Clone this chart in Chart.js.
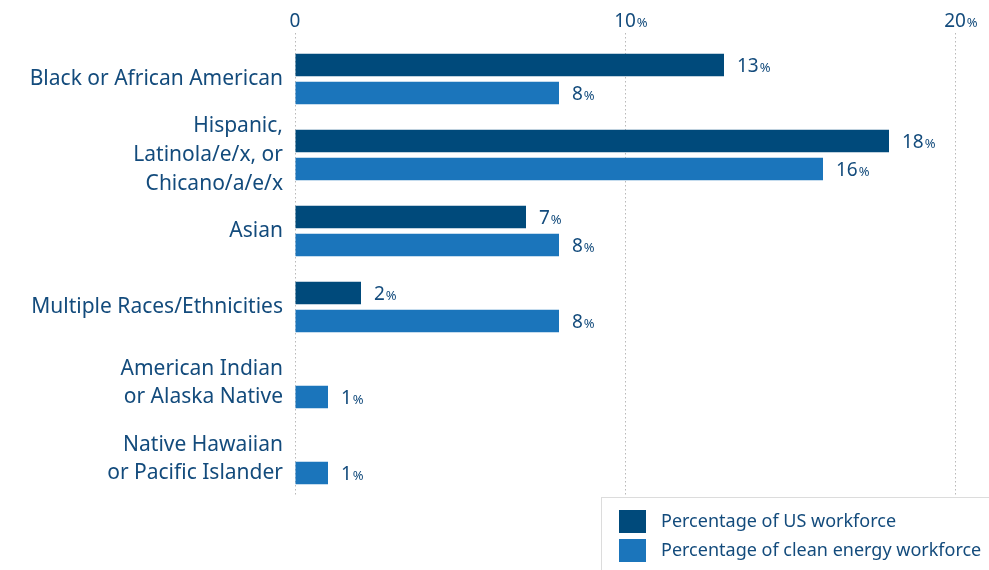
<!DOCTYPE html>
<html>
<head>
<meta charset="utf-8">
<script src="https://cdn.jsdelivr.net/npm/chart.js@4"></script>
<style>
  body { margin: 0; background: #fff; }
  #wrap { width: 989px; height: 570px; }
</style>
</head>
<body>
<div id="wrap"><canvas id="chart" width="989" height="570"></canvas></div>
<script>
const categories = [
  'Black or African American',
  ['Hispanic,', 'Latinola/e/x, or', 'Chicano/a/e/x'],
  'Asian',
  'Multiple Races/Ethnicities',
  ['American Indian', 'or Alaska Native'],
  ['Native Hawaiian', 'or Pacific Islander']
];
const usWorkforce = [13, 18, 7, 2, null, null];
const cleanEnergyWorkforce = [8, 16, 8, 8, 1, 1];
const xTicks = [0, 10, 20];

const TEXT = '#134b7c';
const FONT = "'Noto Sans', sans-serif";

// number with a smaller % sign, number centred or left-aligned at x
function drawPercent(ctx, value, x, y, centered) {
  const num = String(value);
  ctx.font = '19px ' + FONT;
  const w = ctx.measureText(num).width;
  const left = centered ? x - w / 2 : x;
  ctx.fillStyle = TEXT;
  ctx.textAlign = 'left';
  ctx.textBaseline = 'alphabetic';
  ctx.fillText(num, left, y);
  if (value !== 0 || !centered) {
    ctx.font = '13px ' + FONT;
    ctx.fillText('%', left + w + 1, y);
  }
}

const customText = {
  id: 'customText',
  afterDraw(chart) {
    const ctx = chart.ctx;
    const xScale = chart.scales.x;
    ctx.save();

    // top axis labels
    xTicks.forEach((t) => {
      drawPercent(ctx, t, xScale.getPixelForValue(t), 27, true);
    });

    // value labels
    chart.data.datasets.forEach((ds, i) => {
      const meta = chart.getDatasetMeta(i);
      meta.data.forEach((bar, j) => {
        const v = ds.data[j];
        if (v === null) return;
        drawPercent(ctx, v, bar.x + 13, bar.y + 7, false);
      });
    });

    // legend box
    ctx.strokeStyle = '#dcdcdc';
    ctx.lineWidth = 1;
    ctx.strokeRect(601.5, 497.5, 420, 100);
    chart.data.datasets.forEach((ds, i) => {
      const y = 510 + i * 29;
      ctx.fillStyle = ds.backgroundColor;
      ctx.fillRect(619, y, 27, 23);
      ctx.fillStyle = TEXT;
      ctx.font = '18px ' + FONT;
      ctx.textBaseline = 'middle';
      ctx.fillText(ds.label, 661, y + 12);
    });
    ctx.restore();
  }
};

new Chart(document.getElementById('chart'), {
  type: 'bar',
  data: {
    labels: categories,
    datasets: [
      {
        label: 'Percentage of US workforce',
        data: usWorkforce,
        backgroundColor: '#004a7b'
      },
      {
        label: 'Percentage of clean energy workforce',
        data: cleanEnergyWorkforce,
        backgroundColor: '#1b75bb'
      }
    ]
  },
  options: {
    indexAxis: 'y',
    responsive: false,
    animation: false,
    categoryPercentage: 0.737,
    barPercentage: 0.8,
    layout: { padding: { left: 0, top: 0, right: 34, bottom: 73 } },
    plugins: {
      legend: { display: false },
      tooltip: { enabled: false }
    },
    scales: {
      x: {
        position: 'top',
        min: 0,
        max: 20,
        ticks: { display: false, stepSize: 10 },
        grid: {
          color: '#b8b8b8',
          tickBorderDash: [1.5, 2.5],
          tickColor: '#b8b8b8',
          tickLength: 8
        },
        // in v4 the grid line dash comes from border.dash
        border: { display: false, dash: [1.5, 2.5] },
        afterFit: (scale) => { scale.height = 41; }
      },
      y: {
        grid: { display: false, drawTicks: false },
        border: { display: false },
        ticks: {
          color: TEXT,
          padding: 12,
          autoSkip: false,
          font: { family: FONT, size: 21, lineHeight: 1.36 }
        },
        afterFit: (scale) => { scale.width = 295; }
      }
    }
  },
  plugins: [customText]
});
</script>
</body>
</html>
